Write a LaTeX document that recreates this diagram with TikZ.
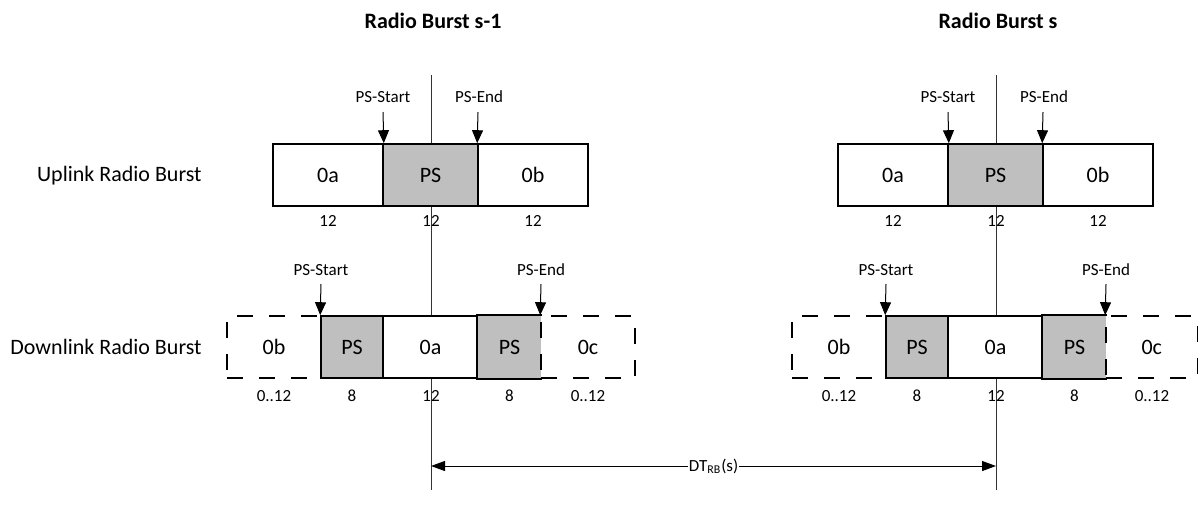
\documentclass[tikz,border=0pt]{standalone}
\usepackage{fontspec}
\setmainfont{Carlito}
\usetikzlibrary{arrows.meta}
\begin{document}
\begin{tikzpicture}[x=0.5pt,y=-0.5pt,
  seg/.style={draw=black, line width=0.8pt, minimum height=31pt, inner sep=0pt, font=\fontsize{11}{13}\selectfont, fill=white},
  psbox/.style={seg, fill=black!25},
  dbox/.style={seg, fill=none, dash pattern=on 8pt off 8pt},
  num/.style={font=\fontsize{8.5}{10}\selectfont, inner sep=0pt},
  rowlab/.style={font=\fontsize{11}{13}\selectfont, anchor=east, inner sep=0pt},
  title/.style={font=\fontsize{11}{13}\selectfont\bfseries, inner sep=0pt},
  mk/.style={line width=0.5pt, -{Triangle[length=6.5pt,width=5.5pt]}},
  vline/.style={line width=0.5pt, draw=black!80},
  dtarrow/.style={line width=0.5pt, {Triangle[length=7pt,width=5pt]}-{Triangle[length=7pt,width=5pt]}},
  solidedge/.style={line width=0.8pt, draw=black}
]
\useasboundingbox (0,0) rectangle (1199,516);

% titles and row labels
\node[title] (t1) at (433,21) {Radio Burst s-1};
\node[title] (t2) at (998,21) {Radio Burst s};
\node[rowlab] (ul) at (202,176) {Uplink Radio Burst};
\node[rowlab] (dl) at (202,347) {Downlink Radio Burst};

% reference lines
\coordinate (l1t) at (431,75);  \coordinate (l1b) at (431,490);
\coordinate (l2t) at (996,75);  \coordinate (l2b) at (996,490);
\draw[vline] (l1t) -- (l1b);
\draw[vline] (l2t) -- (l2b);

% ---------- burst s-1 ----------
\node[seg,   minimum width=55pt]   (u1a) at (328,175)   {0a};
\node[psbox, minimum width=47.5pt] (u1p) at (430.5,175) {PS};
\node[seg,   minimum width=55pt]   (u1b) at (533,175)   {0b};

\node[dbox,  minimum width=47pt]   (d1b)  at (274,347)   {0b};
\node[psbox, minimum width=31pt]   (d1p1) at (352,347)   {PS};
\node[seg,   minimum width=47.5pt] (d1a)  at (430.5,347) {0a};
\node[psbox, draw=none, minimum width=31.5pt] (d1p2) at (509.5,347) {PS};
\draw[solidedge] (d1p2.north east) -- (d1p2.north west) -- (d1p2.south west) -- (d1p2.south east);
\node[dbox,  minimum width=47pt]   (d1c)  at (588,347)   {0c};

% ---------- burst s ----------
\node[seg,   minimum width=55pt]   (u2a) at (893,175)    {0a};
\node[psbox, minimum width=47.5pt] (u2p) at (995.5,175)  {PS};
\node[seg,   minimum width=55pt]   (u2b) at (1098,175)   {0b};

\node[dbox,  minimum width=47pt]   (d2b)  at (839,347)    {0b};
\node[psbox, minimum width=31pt]   (d2p1) at (917,347)    {PS};
\node[seg,   minimum width=47.5pt] (d2a)  at (995.5,347)  {0a};
\node[psbox, draw=none, minimum width=31.5pt] (d2p2) at (1074.5,347) {PS};
\draw[solidedge] (d2p2.north east) -- (d2p2.north west) -- (d2p2.south west) -- (d2p2.south east);
\node[dbox,  minimum width=45.75pt] (d2c) at (1151.75,347) {0c};

% ---------- markers ----------
\node[num] (m1s) at (383,97) {PS-Start};
\node[num] (m1e) at (479,97) {PS-End};
\coordinate (m1sa) at (383,112);
\coordinate (m1ea) at (478,112);
\draw[mk] (m1sa) -- (u1a.north east);
\draw[mk] (m1ea) -- (u1b.north west);

\node[num] (n1s) at (321,270) {PS-Start};
\node[num] (n1e) at (541,270) {PS-End};
\coordinate (n1sa) at (321,284);
\coordinate (n1ea) at (541,284);
\draw[mk] (n1sa) -- (d1p1.north west);
\draw[mk] (n1ea) -- (d1c.north west);

\node[num] (m2s) at (948,97) {PS-Start};
\node[num] (m2e) at (1044,97) {PS-End};
\coordinate (m2sa) at (948,112);
\coordinate (m2ea) at (1043,112);
\draw[mk] (m2sa) -- (u2a.north east);
\draw[mk] (m2ea) -- (u2b.north west);

\node[num] (n2s) at (886,270) {PS-Start};
\node[num] (n2e) at (1106,270) {PS-End};
\coordinate (n2sa) at (886,284);
\coordinate (n2ea) at (1106,284);
\draw[mk] (n2sa) -- (d2p1.north west);
\draw[mk] (n2ea) -- (d2c.north west);

% ---------- size labels ----------
\node[num] (s1a) at (328,221) {12};
\node[num] (s1b) at (431,221) {12};
\node[num] (s1c) at (533,221) {12};
\node[num] (s2a) at (893,221) {12};
\node[num] (s2b) at (996,221) {12};
\node[num] (s2c) at (1098,221) {12};

\node[num] (r1a) at (274,396)   {0..12};
\node[num] (r1b) at (352,396)   {8};
\node[num] (r1c) at (431,396)   {12};
\node[num] (r1d) at (509.5,396) {8};
\node[num] (r1e) at (588,396)   {0..12};
\node[num] (r2a) at (839,396)   {0..12};
\node[num] (r2b) at (917,396)   {8};
\node[num] (r2c) at (996,396)   {12};
\node[num] (r2d) at (1074.5,396) {8};
\node[num] (r2e) at (1152,396)  {0..12};

% ---------- DT arrow ----------
\coordinate (dtl) at (431,466);
\coordinate (dtr) at (996,466);
\draw[dtarrow] (dtl) -- node[num, fill=white, inner xsep=0.5pt, inner ysep=1pt] (dtlab) {DT\textsubscript{RB}(s)} (dtr);
\end{tikzpicture}
\end{document}
